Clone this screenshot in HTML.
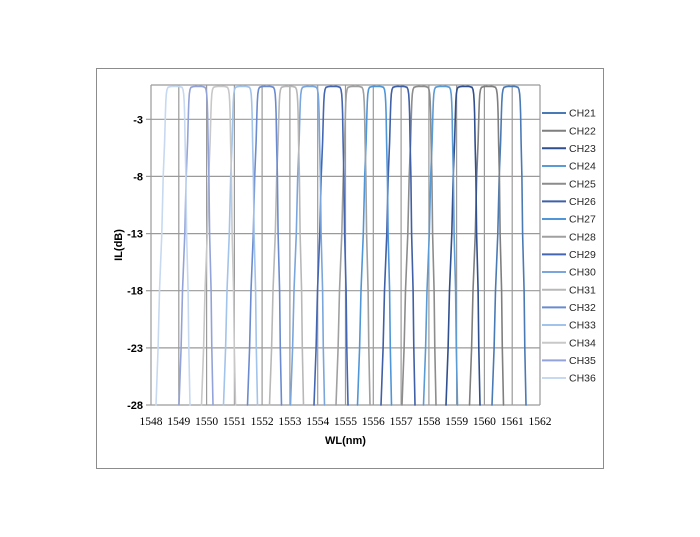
<!DOCTYPE html>
<html>
<head>
<meta charset="utf-8">
<style>
  html,body{margin:0;padding:0;background:#fff;}
  svg{display:block;}
  .yl{font-family:"Liberation Sans",sans-serif;font-weight:bold;font-size:11px;fill:#000;text-anchor:end;}
  .xl{font-family:"Liberation Serif",serif;font-size:11.5px;fill:#000;text-anchor:middle;}
  .tt{font-family:"Liberation Sans",sans-serif;font-weight:bold;font-size:11px;fill:#000;text-anchor:middle;}
  .lg{font-family:"Liberation Sans",sans-serif;font-size:10.5px;fill:#262626;}
</style>
</head>
<body>
<svg width="700" height="537" viewBox="0 0 700 537" xmlns="http://www.w3.org/2000/svg">
  <defs>
    <path id="ch" fill="none" stroke-linejoin="round" stroke-linecap="round"
      d="M-19,405 L-16.9,347.9 L-15.5,290.7 L-13.2,233.6 L-11.8,176.4 L-10.4,142.2 L-9.6,113.6 L-9.2,102.1 L-8.7,94.1 L-8,89.6 L-7,87.3 L-5,86.7 L-2,86.3 L0,86.5 L3,86.3 L5,86.7 L7,87.3 L8,89.6 L8.7,94.1 L9.2,102.1 L9.6,113.6 L10.1,142.2 L10.9,176.4 L11.6,233.6 L13.1,290.7 L13.8,347.9 L15,405"/>
  </defs>
  <rect x="0" y="0" width="700" height="537" fill="#fff"/>
  <!-- outer frame -->
  <rect x="96.5" y="68.5" width="507" height="400" fill="none" stroke="#8c8c8c" stroke-width="1"/>

  <!-- gridlines -->
  <g stroke="#9a9a9a" stroke-width="1.2" fill="none">
    <line x1="151" y1="85" x2="540" y2="85"/>
    <line x1="151" y1="119.3" x2="540" y2="119.3"/>
    <line x1="151" y1="176.4" x2="540" y2="176.4"/>
    <line x1="151" y1="233.6" x2="540" y2="233.6"/>
    <line x1="151" y1="290.7" x2="540" y2="290.7"/>
    <line x1="151" y1="347.9" x2="540" y2="347.9"/>
    <line x1="151" y1="405" x2="540" y2="405"/>
    <line x1="151" y1="85" x2="151" y2="405"/>
    <line x1="178.8" y1="85" x2="178.8" y2="405"/>
    <line x1="206.6" y1="85" x2="206.6" y2="405"/>
    <line x1="234.4" y1="85" x2="234.4" y2="405"/>
    <line x1="262.1" y1="85" x2="262.1" y2="405"/>
    <line x1="289.9" y1="85" x2="289.9" y2="405"/>
    <line x1="317.7" y1="85" x2="317.7" y2="405"/>
    <line x1="345.5" y1="85" x2="345.5" y2="405"/>
    <line x1="373.3" y1="85" x2="373.3" y2="405"/>
    <line x1="401.1" y1="85" x2="401.1" y2="405"/>
    <line x1="428.9" y1="85" x2="428.9" y2="405"/>
    <line x1="456.6" y1="85" x2="456.6" y2="405"/>
    <line x1="484.4" y1="85" x2="484.4" y2="405"/>
    <line x1="512.2" y1="85" x2="512.2" y2="405"/>
    <line x1="540" y1="85" x2="540" y2="405"/>
    <!-- y ticks -->
    <line x1="146" y1="119.3" x2="151" y2="119.3"/>
    <line x1="146" y1="176.4" x2="151" y2="176.4"/>
    <line x1="146" y1="233.6" x2="151" y2="233.6"/>
    <line x1="146" y1="290.7" x2="151" y2="290.7"/>
    <line x1="146" y1="347.9" x2="151" y2="347.9"/>
    <line x1="146" y1="405" x2="151" y2="405"/>
  </g>

  <!-- series -->
  <g stroke-width="1.6">
    <use href="#ch" x="511" stroke="#4a7ab4"/>
    <use href="#ch" x="488.5" stroke="#7f7f7f"/>
    <use href="#ch" x="465" stroke="#2f4f8f"/>
    <use href="#ch" x="442.5" stroke="#5b9bd5"/>
    <use href="#ch" x="421" stroke="#8c8c8c"/>
    <use href="#ch" x="400" stroke="#3f5fa6"/>
    <use href="#ch" x="376.5" stroke="#4f96d8"/>
    <use href="#ch" x="355" stroke="#a0a0a0"/>
    <use href="#ch" x="333" stroke="#4466b2"/>
    <use href="#ch" x="309.5" stroke="#7aa6dd"/>
    <use href="#ch" x="288.5" stroke="#b8b8b8"/>
    <use href="#ch" x="266.5" stroke="#6a8bd0"/>
    <use href="#ch" x="242.5" stroke="#a2c3ea"/>
    <use href="#ch" x="220.5" stroke="#c8c8c8"/>
    <use href="#ch" x="198" stroke="#93a3d9"/>
    <use href="#ch" x="175" stroke="#c6d9f1"/>
  </g>

  <!-- y labels -->
  <text class="yl" x="143" y="123.3">-3</text>
  <text class="yl" x="143" y="180.4">-8</text>
  <text class="yl" x="143" y="237.6">-13</text>
  <text class="yl" x="143" y="294.7">-18</text>
  <text class="yl" x="143" y="351.9">-23</text>
  <text class="yl" x="143" y="409">-28</text>

  <!-- x labels -->
  <text class="xl" x="151" y="425">1548</text>
  <text class="xl" x="178.8" y="425">1549</text>
  <text class="xl" x="206.6" y="425">1550</text>
  <text class="xl" x="234.4" y="425">1551</text>
  <text class="xl" x="262.1" y="425">1552</text>
  <text class="xl" x="289.9" y="425">1553</text>
  <text class="xl" x="317.7" y="425">1554</text>
  <text class="xl" x="345.5" y="425">1555</text>
  <text class="xl" x="373.3" y="425">1556</text>
  <text class="xl" x="401.1" y="425">1557</text>
  <text class="xl" x="428.9" y="425">1558</text>
  <text class="xl" x="456.6" y="425">1559</text>
  <text class="xl" x="484.4" y="425">1560</text>
  <text class="xl" x="512.2" y="425">1561</text>
  <text class="xl" x="540" y="425">1562</text>

  <!-- axis titles -->
  <text class="tt" x="345.5" y="444">WL(nm)</text>
  <text class="tt" x="0" y="0" transform="translate(122,245) rotate(-90)">IL(dB)</text>

  <!-- legend -->
  <g stroke-width="2">
    <line x1="542" y1="113" x2="566" y2="113" stroke="#4a7ab4"/>
    <line x1="542" y1="130.7" x2="566" y2="130.7" stroke="#7f7f7f"/>
    <line x1="542" y1="148.3" x2="566" y2="148.3" stroke="#2f4f8f"/>
    <line x1="542" y1="166" x2="566" y2="166" stroke="#5b9bd5"/>
    <line x1="542" y1="183.7" x2="566" y2="183.7" stroke="#8c8c8c"/>
    <line x1="542" y1="201.4" x2="566" y2="201.4" stroke="#3f5fa6"/>
    <line x1="542" y1="219" x2="566" y2="219" stroke="#4f96d8"/>
    <line x1="542" y1="236.7" x2="566" y2="236.7" stroke="#a0a0a0"/>
    <line x1="542" y1="254.4" x2="566" y2="254.4" stroke="#4466b2"/>
    <line x1="542" y1="272" x2="566" y2="272" stroke="#7aa6dd"/>
    <line x1="542" y1="289.7" x2="566" y2="289.7" stroke="#b8b8b8"/>
    <line x1="542" y1="307.4" x2="566" y2="307.4" stroke="#6a8bd0"/>
    <line x1="542" y1="325" x2="566" y2="325" stroke="#a2c3ea"/>
    <line x1="542" y1="342.7" x2="566" y2="342.7" stroke="#c8c8c8"/>
    <line x1="542" y1="360.4" x2="566" y2="360.4" stroke="#93a3d9"/>
    <line x1="542" y1="378" x2="566" y2="378" stroke="#c6d9f1"/>
  </g>
  <text class="lg" x="569" y="116.7">CH21</text>
  <text class="lg" x="569" y="134.4">CH22</text>
  <text class="lg" x="569" y="152">CH23</text>
  <text class="lg" x="569" y="169.7">CH24</text>
  <text class="lg" x="569" y="187.4">CH25</text>
  <text class="lg" x="569" y="205.1">CH26</text>
  <text class="lg" x="569" y="222.7">CH27</text>
  <text class="lg" x="569" y="240.4">CH28</text>
  <text class="lg" x="569" y="258.1">CH29</text>
  <text class="lg" x="569" y="275.7">CH30</text>
  <text class="lg" x="569" y="293.4">CH31</text>
  <text class="lg" x="569" y="311.1">CH32</text>
  <text class="lg" x="569" y="328.7">CH33</text>
  <text class="lg" x="569" y="346.4">CH34</text>
  <text class="lg" x="569" y="364.1">CH35</text>
  <text class="lg" x="569" y="381.7">CH36</text>
</svg>
</body>
</html>
